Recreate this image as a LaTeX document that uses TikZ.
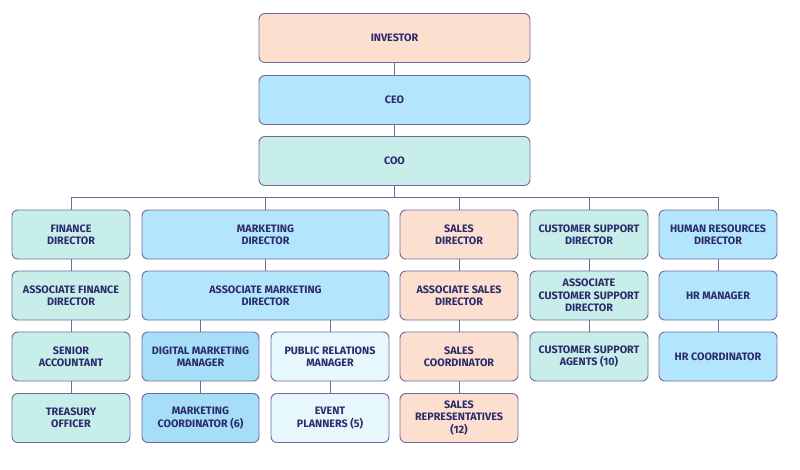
\documentclass[tikz,border=0pt]{standalone}
\usepackage{fontspec}
\setmainfont{Fira Sans}
\usetikzlibrary{positioning}
\definecolor{peach}{HTML}{FDDFD0}
\definecolor{skyblue}{HTML}{B3E5FC}
\definecolor{mint}{HTML}{C8EEEA}
\definecolor{deepsky}{HTML}{A6DDF7}
\definecolor{paleblue}{HTML}{E6F7FD}
\definecolor{edgegray}{HTML}{6E6C9E}
\definecolor{inkblue}{HTML}{2B2A6B}

\tikzset{
  role/.style={draw=edgegray, line width=0.8pt, rounded corners=5pt, align=center,
    text=inkblue, font=\fontsize{9.2}{10.6}\selectfont\bfseries,
    minimum width=118*0.03cm, minimum height=49*0.03cm, inner sep=1pt},
  link/.style={draw=edgegray, line width=0.8pt}
}

\begin{document}
\begin{tikzpicture}[x=0.03cm, y=-0.03cm]
    \useasboundingbox (0,0) rectangle (800,470);
    % top of the chart
    \node[role, fill=peach, minimum width=271*0.03cm] (inv) at (394.5,38) {INVESTOR};
    \node[role, fill=skyblue, minimum width=271*0.03cm] (ceo) at (394.5,100) {CEO};
    \node[role, fill=mint, minimum width=271*0.03cm] (coo) at (394.5,161) {COO};
    \draw[link] (inv) -- (ceo);
    \draw[link] (ceo) -- (coo);

    % directors
    \node[role, fill=mint] (fin) at (71,234.5) {FINANCE\\DIRECTOR};
    \node[role, fill=skyblue, minimum width=247*0.03cm] (mkt) at (265.5,234.5) {MARKETING\\DIRECTOR};
    \node[role, fill=peach] (sal) at (459,234.5) {SALES\\DIRECTOR};
    \node[role, fill=mint] (cs) at (589,234.5) {CUSTOMER SUPPORT\\DIRECTOR};
    \node[role, fill=skyblue] (hr) at (718,234.5) {HUMAN RESOURCES\\DIRECTOR};
    \foreach \d in {fin, mkt, sal, cs, hr}
      \draw[link] (coo.south) -- ++(0,11.5) -| (\d.north);

    % finance column
    \node[role, fill=mint] (afin) at (71,295.5) {ASSOCIATE FINANCE\\DIRECTOR};
    \node[role, fill=mint] (acc) at (71,356.5) {SENIOR\\ACCOUNTANT};
    \node[role, fill=mint] (tre) at (71,418) {TREASURY\\OFFICER};
    \draw[link] (fin) -- (afin);
    \draw[link] (afin) -- (acc);
    \draw[link] (acc) -- (tre);

    % marketing column
    \node[role, fill=skyblue, minimum width=247*0.03cm] (amkt) at (265.5,295.5) {ASSOCIATE MARKETING\\DIRECTOR};
    \node[role, fill=deepsky, minimum width=117*0.03cm] (dig) at (200.5,356.5) {DIGITAL MARKETING\\MANAGER};
    \node[role, fill=paleblue] (pr) at (330,356.5) {PUBLIC RELATIONS\\MANAGER};
    \node[role, fill=deepsky, minimum width=117*0.03cm] (mco) at (200.5,418) {MARKETING\\COORDINATOR (6)};
    \node[role, fill=paleblue] (evt) at (330,418) {EVENT\\PLANNERS (5)};
    \draw[link] (mkt) -- (amkt);
    \draw[link] (dig.north) -- (dig.north |- amkt.south);
    \draw[link] (pr.north) -- (pr.north |- amkt.south);
    \draw[link] (dig) -- (mco);
    \draw[link] (pr) -- (evt);

    % sales column
    \node[role, fill=peach] (asal) at (459,295.5) {ASSOCIATE SALES\\DIRECTOR};
    \node[role, fill=peach] (sco) at (459,356.5) {SALES\\COORDINATOR};
    \node[role, fill=peach] (rep) at (459,418) {SALES\\REPRESENTATIVES\\(12)};
    \draw[link] (sal) -- (asal);
    \draw[link] (asal) -- (sco);
    \draw[link] (sco) -- (rep);

    % customer support column
    \node[role, fill=mint] (acs) at (589,295.5) {ASSOCIATE\\CUSTOMER SUPPORT\\DIRECTOR};
    \node[role, fill=mint] (agt) at (589,356.5) {CUSTOMER SUPPORT\\AGENTS (10)};
    \draw[link] (cs) -- (acs);
    \draw[link] (acs) -- (agt);

    % human resources column
    \node[role, fill=skyblue] (hrm) at (718,295.5) {HR MANAGER};
    \node[role, fill=skyblue] (hrc) at (718,356.5) {HR COORDINATOR};
    \draw[link] (hr) -- (hrm);
    \draw[link] (hrm) -- (hrc);
  \end{tikzpicture}
\end{document}
